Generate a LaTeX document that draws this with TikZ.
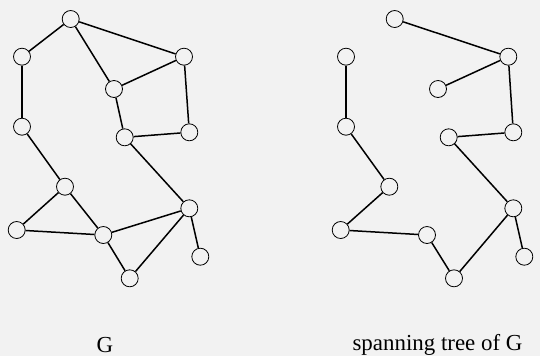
\documentclass[tikz,border=0pt]{standalone}
\usepackage{fontspec}
\setmainfont{Liberation Serif}
\usepackage{xcolor}
\usepackage{tikz}
\definecolor{bgcol}{RGB}{242,242,242}

\begin{document}
\begin{tikzpicture}[
      x=1bp, y=-1bp,
      vert/.style={draw, circle, line width=0.8bp, minimum size=17bp, inner sep=0pt},
      edge/.style={line width=1.5bp},
      caption/.style={font=\fontsize{23}{27}\selectfont}
    ]
    \fill[bgcol] (0,0) rectangle (540,356);
    \useasboundingbox (0,0) rectangle (540,356);
    % Nodes of G
    \node[vert] (a) at (70.7,19)    {};
    \node[vert] (b) at (22,56.7)    {};
    \node[vert] (c) at (184,56.7)   {};
    \node[vert] (d) at (114,89)     {};
    \node[vert] (e) at (22,126.7)   {};
    \node[vert] (f) at (124.7,137.3){};
    \node[vert] (g) at (189.3,132.3){};
    \node[vert] (h) at (65,186.7)   {};
    \node[vert] (i) at (189.3,208.3){};
    \node[vert] (j) at (16.7,230)   {};
    \node[vert] (k) at (103.3,235)  {};
    \node[vert] (l) at (200.3,256.7){};
    \node[vert] (m) at (129.7,278.3){};
    % Edges of G
    \draw[edge] (a) -- (b);
    \draw[edge] (a) -- (c);
    \draw[edge] (a) -- (d);
    \draw[edge] (b) -- (e);
    \draw[edge] (c) -- (d);
    \draw[edge] (c) -- (g);
    \draw[edge] (d) -- (f);
    \draw[edge] (f) -- (g);
    \draw[edge] (f) -- (i);
    \draw[edge] (e) -- (h);
    \draw[edge] (h) -- (j);
    \draw[edge] (h) -- (k);
    \draw[edge] (j) -- (k);
    \draw[edge] (k) -- (i);
    \draw[edge] (k) -- (m);
    \draw[edge] (m) -- (i);
    \draw[edge] (i) -- (l);
    % Nodes of the spanning tree
    \node[vert] (ta) at (394.7,19)   {};
    \node[vert] (tb) at (346,56.7)   {};
    \node[vert] (tc) at (508.3,56.7) {};
    \node[vert] (td) at (438,89)     {};
    \node[vert] (te) at (346,126.7)  {};
    \node[vert] (tf) at (448.7,137.3){};
    \node[vert] (tg) at (513.3,132.3){};
    \node[vert] (th) at (389.3,186.7){};
    \node[vert] (ti) at (513.3,208.3){};
    \node[vert] (tj) at (340.7,230)  {};
    \node[vert] (tk) at (427,235)    {};
    \node[vert] (tl) at (524.3,256.7){};
    \node[vert] (tm) at (454,278.3)  {};
    % Edges of the spanning tree
    \draw[edge] (ta) -- (tc);
    \draw[edge] (tc) -- (td);
    \draw[edge] (tc) -- (tg);
    \draw[edge] (tg) -- (tf);
    \draw[edge] (tf) -- (ti);
    \draw[edge] (ti) -- (tl);
    \draw[edge] (ti) -- (tm);
    \draw[edge] (tm) -- (tk);
    \draw[edge] (tk) -- (tj);
    \draw[edge] (tj) -- (th);
    \draw[edge] (th) -- (te);
    \draw[edge] (te) -- (tb);
    % Captions
    \node[caption] (capg) at (105,345)   {G};
    \node[caption] (capt) at (437.5,345) {spanning tree of G};
  \end{tikzpicture}
\end{document}
